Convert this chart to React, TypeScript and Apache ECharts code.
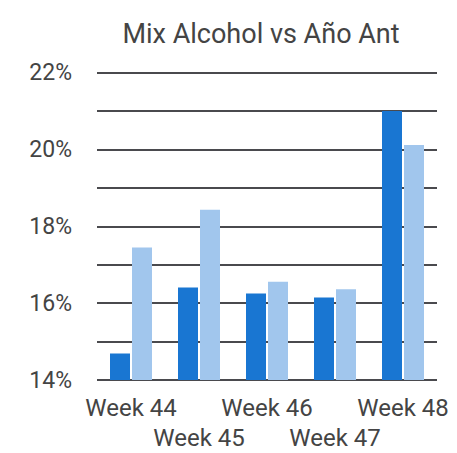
import React, { useEffect, useRef } from "react";
import * as echarts from "echarts";

const categories = ["Week 44", "Week 45", "Week 46", "Week 47", "Week 48"];
const actualValues = [14.69, 16.41, 16.25, 16.15, 21.0];
const prevYearValues = [17.45, 18.43, 16.56, 16.36, 20.12];
const titleText = "Mix Alcohol vs Año Ant";

export default function App() {
  const ref = useRef<HTMLDivElement>(null);
  useEffect(() => {
    if (!ref.current) return;
    const chart = echarts.init(ref.current, null, { renderer: "svg" });
    chart.setOption({
      animation: false,
      textStyle: { fontFamily: "Roboto" },
      title: {
        text: titleText,
        left: 256,
        top: 15,
        textAlign: "center",
        textStyle: { fontFamily: "Roboto", fontSize: 27, fontWeight: "normal", color: "#444444" },
      },
      grid: { left: 97, right: 20, top: 72.7, bottom: 72.3 },
      xAxis: {
        type: "category",
        data: categories,
        axisLine: { show: false },
        axisTick: { show: false },
        axisLabel: {
          interval: 0,
          fontFamily: "Roboto",
          fontSize: 24,
          color: "#444444",
          lineHeight: 30,
          margin: 13,
          formatter: (v: string, i: number) => (i % 2 === 1 ? "\n" + v : v),
        },
      },
      yAxis: {
        type: "value",
        min: 14,
        max: 22,
        interval: 1,
        axisLine: { show: false },
        axisTick: { show: false },
        splitLine: { lineStyle: { color: "#4a4a4e", width: 2 } },
        axisLabel: {
          fontFamily: "Roboto",
          fontSize: 23,
          color: "#444444",
          margin: 25,
          formatter: (v: number) => (Math.round(v) % 2 === 0 ? v + "%" : ""),
        },
      },
      series: [
        {
          type: "bar",
          data: actualValues,
          barWidth: 20,
          barGap: "10%",
          itemStyle: { color: "#1976d2" },
        },
        {
          type: "bar",
          data: prevYearValues,
          barWidth: 20,
          itemStyle: { color: "#a1c6ed" },
        },
      ],
    });
    return () => chart.dispose();
  }, []);
  return <div ref={ref} style={{ width: 457, height: 453, position: "absolute", left: 0, top: 0 }} />;
}
